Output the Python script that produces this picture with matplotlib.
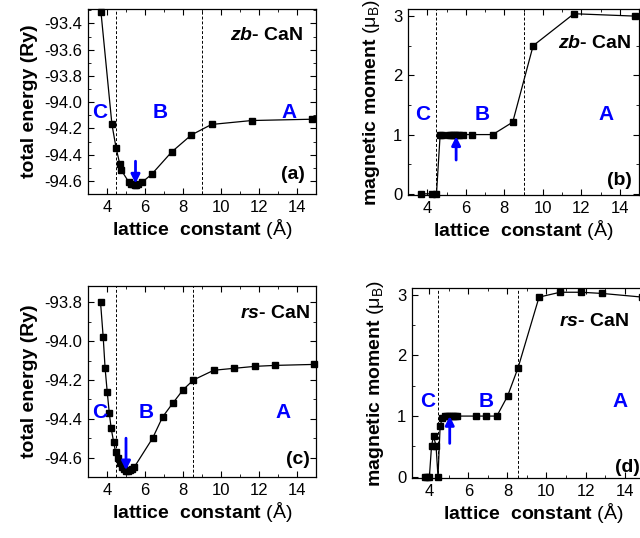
import numpy as np
import matplotlib
matplotlib.use("Agg")
import matplotlib.pyplot as plt
from matplotlib.ticker import MultipleLocator

plt.rcParams['font.family'] = ['Liberation Sans', 'DejaVu Sans']
plt.rcParams['mathtext.fontset'] = 'custom'
plt.rcParams['mathtext.rm'] = 'Liberation Sans'
plt.rcParams['mathtext.bf'] = 'Liberation Sans:bold'
plt.rcParams['mathtext.it'] = 'Liberation Sans:italic'
plt.rcParams['mathtext.bfit'] = 'Liberation Sans:italic:bold'

# datos zb-CaN
zb_a = [3.68, 4.26, 4.48, 4.67, 4.76, 5.15, 5.25, 5.35, 5.45, 5.55, 5.65, 5.85,
        6.35, 7.40, 8.44, 9.50, 11.62, 14.80]
zb_E = [-93.31, -94.17, -94.35, -94.47, -94.52, -94.61, -94.62, -94.625, -94.63,
        -94.63, -94.625, -94.61, -94.55, -94.38, -94.25, -94.17, -94.14, -94.13]
zb_m = [0, 0, 0, 1.0, 1.0, 1.0, 1.0, 1.0, 1.0, 1.0, 1.0, 1.0,
        1.0, 1.0, 1.21, 2.50, 3.04, 3.00]

# datos rs-CaN
rs_a = [3.66, 3.80, 3.90, 4.01, 4.12, 4.22, 4.35, 4.45, 4.56, 4.68, 4.79, 4.90,
        5.00, 5.10, 5.20, 5.30, 5.43, 6.40, 6.93, 7.46, 8.01, 8.55, 9.62, 10.70,
        11.78, 12.86, 14.90]
rs_E = [-93.80, -93.98, -94.14, -94.26, -94.37, -94.45, -94.52, -94.57, -94.60,
        -94.63, -94.65, -94.66, -94.67, -94.67, -94.665, -94.66, -94.65, -94.50,
        -94.39, -94.32, -94.25, -94.20, -94.15, -94.14, -94.13, -94.125, -94.12]
rs_m = [np.nan, 0, 0, 0, 0.51, 0.67, 0.51, 0, 0.84, 0.97, 1.0, 1.0,
        1.0, 1.0, 1.0, 1.0, 1.0, 1.0, 1.0, 1.0, 1.33, 1.80, 2.96, 3.04,
        3.04, 3.02, 2.96]

W, H = 640, 538
fig = plt.figure(figsize=(W / 100, H / 100), dpi=100)


def panel(left, top, right, bottom):
    # ejes en pixeles de la figura
    return fig.add_axes([left / W, 1 - bottom / H, (right - left) / W, (bottom - top) / H])


def style(ax, ymaj, ymin):
    ax.xaxis.set_major_locator(MultipleLocator(2))
    ax.xaxis.set_minor_locator(MultipleLocator(1))
    ax.yaxis.set_major_locator(MultipleLocator(ymaj))
    ax.yaxis.set_minor_locator(MultipleLocator(ymin))
    ax.tick_params(which='both', direction='in', top=True, right=True, labelsize=12, pad=4)
    ax.tick_params(which='major', length=4, width=0.8)
    ax.tick_params(which='minor', length=2.5, width=0.6)
    for s in ax.spines.values():
        s.set_linewidth(0.9)
    ax.set_xlabel(r"lattice  constant $\mathrm{(Å)}$", fontsize=14, fontweight='bold', labelpad=2)


def regions(ax, xs, y):
    for lab, x in zip("CBA", xs):
        ax.text(x, y, lab, color='blue', fontsize=15, fontweight='bold', ha='center', va='center')


def arrow(ax, x, y0, y1):
    ax.annotate('', xy=(x, y1), xytext=(x, y0),
                arrowprops=dict(arrowstyle='-|>', color='blue', lw=2, mutation_scale=13,
                                shrinkA=0, shrinkB=0))


line_kw = dict(color='black', lw=0.9, marker='s', ms=3.8, clip_on=False, zorder=3)
dash_kw = dict(color='black', lw=0.7, ls=(0, (3, 2)))

# (a)
ax = panel(88, 9, 316, 194)
ax.plot(zb_a, zb_E, **line_kw)
ax.set_xlim(3.0, 15.0)
ax.set_ylim(-94.70, -93.29)
for xv in (4.45, 9.0):
    ax.axvline(xv, **dash_kw)
style(ax, 0.2, 0.1)
ax.yaxis.set_major_formatter(lambda v, p: f"{v:.1f}")
ax.set_ylabel("total energy (Ry)", fontsize=14, fontweight='bold', labelpad=5)
regions(ax, (3.6, 6.8, 13.6), -94.08)
arrow(ax, 5.5, -94.45, -94.62)
ax.text(14.35, -93.49, r"$\mathbfit{zb}$- CaN", fontsize=14, fontweight='bold', ha='right', va='center')
ax.text(14.4, -94.55, "(a)", fontsize=14, fontweight='bold', ha='right', va='center')

# (b)
ax = panel(408, 9, 639, 195)
ax.plot(zb_a, zb_m, **line_kw)
ax.set_xlim(3.0, 15.0)
ax.set_ylim(-0.02, 3.12)
for xv in (4.45, 9.0):
    ax.axvline(xv, **dash_kw)
style(ax, 1, 0.5)
ax.set_ylabel(r"magnetic moment $\mathrm{(\mu_B)}$", fontsize=14, fontweight='bold', labelpad=8)
regions(ax, (3.76, 6.86, 13.3), 1.34)
arrow(ax, 5.5, 0.57, 0.97)
ax.text(14.62, 2.54, r"$\mathbfit{zb}$- CaN", fontsize=14, fontweight='bold', ha='right', va='center')
ax.text(14.62, 0.22, "(b)", fontsize=14, fontweight='bold', ha='right', va='center')

# (c)
ax = panel(88, 286, 316, 477)
ax.plot(rs_a, rs_E, **line_kw)
ax.set_xlim(3.0, 15.0)
ax.set_ylim(-94.70, -93.716)
for xv in (4.45, 8.55):
    ax.axvline(xv, **dash_kw)
style(ax, 0.2, 0.1)
ax.yaxis.set_major_formatter(lambda v, p: f"{v:.1f}")
ax.set_ylabel("total energy (Ry)", fontsize=14, fontweight='bold', labelpad=5)
regions(ax, (3.6, 6.07, 13.25), -94.37)
arrow(ax, 5.0, -94.50, -94.665)
ax.text(14.67, -93.86, r"$\mathbfit{rs}$- CaN", fontsize=14, fontweight='bold', ha='right', va='center')
ax.text(14.67, -94.61, "(c)", fontsize=14, fontweight='bold', ha='right', va='center')

# (d)
ax = panel(412, 288, 654, 478)
ax.plot(rs_a, rs_m, **line_kw)
ax.set_xlim(3.12, 15.5)
ax.set_ylim(-0.02, 3.11)
for xv in (4.45, 8.55):
    ax.axvline(xv, **dash_kw)
style(ax, 1, 0.5)
ax.set_ylabel(r"magnetic moment $\mathrm{(\mu_B)}$", fontsize=14, fontweight='bold', labelpad=8)
regions(ax, (3.9, 6.9, 13.75), 1.24)
arrow(ax, 5.05, 0.55, 1.0)
ax.text(14.2, 2.56, r"$\mathbfit{rs}$- CaN", fontsize=14, fontweight='bold', ha='right', va='center')
ax.text(14.77, 0.15, "(d)", fontsize=14, fontweight='bold', ha='right', va='center')

fig.savefig("out.png", dpi=100)
